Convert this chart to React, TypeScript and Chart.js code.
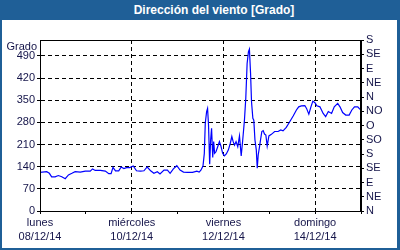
import React, { useEffect, useRef } from "react";
import { Chart, registerables } from "chart.js";

Chart.register(...registerables);

// ---- data (hours since 08/12/14 00:00, wind direction in degrees) ----
const HOURS = [
  0, 3.5, 4.9, 6.1, 7.9, 9.6, 11.4, 13.2, 14.9, 16.7, 18.4, 21.1, 23.7, 26.3, 27.5, 28.9,
  31.6, 34.2, 36, 37.2, 38.2, 39.5, 41.2, 42.5, 43.9, 45.3, 47, 48.8, 50.5, 52.6, 54.4,
  56.1, 57.9, 59.6, 61.4, 62.8, 64.9, 66.7, 68.1, 69.8, 71.6, 73.3, 75.1, 77.2, 79.8,
  82.1, 83.3, 84.2, 85.3, 86, 86.5, 87.2, 87.7, 88.2, 88.8, 89.3, 89.8, 90.4, 90.9, 91.4,
  92.1, 93, 93.9, 94.7, 95.6, 96.5, 97.5, 98.6, 99.6, 100.4, 101.1, 101.8, 102.6, 103.5,
  104.4, 105.3, 106.1, 107, 107.7, 108.4, 109.1, 109.6, 110.2, 110.7, 111.4, 111.9, 112.5,
  113.2, 113.7, 114.2, 114.9, 115.4, 116.1, 116.8, 117.5, 118.2, 118.9, 119.8, 121.1,
  122.8, 124.6, 126, 127.2, 128.9, 130.7, 132.5, 134.2, 135.4, 136.8, 138.6, 139.5, 140.7,
  141.8, 142.8, 143.9, 144.9, 146.5, 148.2, 149.5, 150.9, 152.6, 154, 155.8, 157, 158.4,
  160, 161.8, 163.2, 164.6, 166.3, 167.5,
];
const DIRECTION = [
  122, 124, 119, 108, 108, 112, 108, 102, 114, 119, 124, 123, 126, 126, 133, 128,
  128, 126, 118, 118, 138, 127, 127, 139, 134, 137, 137, 142, 127, 126, 127,
  139, 127, 119, 124, 117, 129, 129, 119, 133, 143, 129, 123, 122, 122,
  126, 123, 129, 142, 182, 277, 314, 324, 272, 148, 224, 261, 169, 219, 182,
  187, 203, 219, 205, 182, 174, 180, 193, 214, 235, 219, 208, 219, 203,
  237, 174, 224, 287, 356, 466, 503, 511, 435, 345, 293, 287, 224,
  193, 135, 177, 203, 224, 251, 254, 243, 240, 205, 237, 242,
  251, 251, 256, 253, 264, 282, 300, 319, 329, 332, 333, 324, 306,
  329, 347, 342, 332, 329, 308, 298, 314, 308, 329, 340, 329, 311,
  303, 303, 319, 329, 329, 321,
];

const DAY_NAMES = ["lunes", "martes", "miércoles", "jueves", "viernes", "sábado", "domingo", "lunes"];
const DAY_DATES = ["08/12/14", "09/12/14", "10/12/14", "11/12/14", "12/12/14", "13/12/14", "14/12/14", "15/12/14"];
const LEFT_TICKS = [0, 70, 140, 210, 280, 350, 420, 490];
const COMPASS_VALUES = [0, 45, 90, 135, 180, 225, 270, 315, 360, 405, 450, 495, 540];
const COMPASS_LABELS = ["N", "NE", "E", "SE", "S", "SO", "O", "NO", "N", "NE", "E", "SE", "S"];
const TITLE = "Dirección del viento [Grado]";
const UNIT = "Grado";

const FONT_FAMILY = "'Liberation Sans', Arial, sans-serif";
const TEXT_COLOR = "#15154a";
const FRAME_BLUE = "#1f5f97";
const DASH = [4, 3];

export default function App() {
  const canvasRef = useRef<HTMLCanvasElement | null>(null);

  useEffect(() => {
    const canvas = canvasRef.current;
    if (!canvas) return;

    const framePlugin = {
      id: "frameBox",
      afterDraw(chart: any) {
        const { ctx, chartArea } = chart;
        ctx.save();
        ctx.setLineDash([]);
        ctx.strokeStyle = "#000";
        ctx.lineWidth = 1;
        ctx.strokeRect(
          Math.round(chartArea.left) + 0.5,
          Math.round(chartArea.top) + 0.5,
          Math.round(chartArea.right - chartArea.left) - 1,
          Math.round(chartArea.bottom - chartArea.top)
        );
        ctx.fillStyle = TEXT_COLOR;
        ctx.font = `11px ${FONT_FAMILY}`;
        ctx.textAlign = "right";
        ctx.textBaseline = "middle";
        ctx.fillText(UNIT, chartArea.left - 3, chartArea.top + 7);
        ctx.restore();
      },
    };

    const chart = new Chart(canvas, {
      type: "line",
      data: {
        datasets: [
          {
            data: HOURS.map((h, i) => ({ x: h, y: DIRECTION[i] })),
            borderColor: "#0000ff",
            borderWidth: 1.2,
            pointRadius: 0,
            tension: 0,
            fill: false,
          },
        ],
      },
      options: {
        animation: false,
        responsive: false,
        maintainAspectRatio: false,
        layout: { padding: { top: 40, left: 0, right: 0, bottom: 0 } },
        plugins: {
          legend: { display: false },
          tooltip: { enabled: false },
          title: { display: false },
        },
        scales: {
          x: {
            type: "linear",
            min: 0,
            max: 168,
            afterBuildTicks: (scale: any) => {
              scale.ticks = DAY_NAMES.map((_, i) => ({ value: i * 24 }));
            },
            afterFit: (scale: any) => {
              scale.height = 39;
            },
            ticks: {
              autoSkip: false,
              maxRotation: 0,
              minRotation: 0,
              padding: 2,
              color: TEXT_COLOR,
              font: { family: FONT_FAMILY, size: 11, lineHeight: 1.28 },
              callback: (_v: any, index: number) =>
                index % 2 === 0 ? [DAY_NAMES[index], DAY_DATES[index]] : "",
            },
            grid: {
              color: (ctx: any) =>
                ctx.tick && ctx.tick.value % 48 === 0 && ctx.tick.value > 0 && ctx.tick.value < 168
                  ? "#000"
                  : "transparent",
              lineWidth: 1,
              borderDash: DASH,
              tickColor: "#000",
              tickLength: 3,
              tickBorderDash: [],
            } as any,
            border: { display: true, color: "#000", dash: DASH } as any,
          },
          y: {
            position: "left",
            min: 0,
            max: 540,
            afterBuildTicks: (scale: any) => {
              scale.ticks = LEFT_TICKS.map((v) => ({ value: v }));
            },
            afterFit: (scale: any) => {
              scale.width = 40;
            },
            ticks: {
              autoSkip: false,
              padding: 2,
              color: TEXT_COLOR,
              font: { family: FONT_FAMILY, size: 11 },
            },
            grid: {
              color: (ctx: any) => (ctx.tick && ctx.tick.value > 0 ? "#000" : "transparent"),
              lineWidth: 1,
              borderDash: DASH,
              tickColor: "#000",
              tickLength: 3,
              tickBorderDash: [],
            } as any,
            border: { display: true, color: "#000", dash: DASH } as any,
          },
          y2: {
            position: "right",
            min: 0,
            max: 540,
            afterBuildTicks: (scale: any) => {
              scale.ticks = COMPASS_VALUES.map((v) => ({ value: v }));
            },
            afterFit: (scale: any) => {
              scale.width = 39;
            },
            ticks: {
              autoSkip: false,
              padding: 2,
              color: TEXT_COLOR,
              font: { family: FONT_FAMILY, size: 11 },
              callback: (_v: any, index: number) => COMPASS_LABELS[index],
            },
            grid: {
              drawOnChartArea: false,
              tickColor: "#000",
              tickLength: 3,
              tickBorderDash: [],
            } as any,
            border: { display: true, color: "#000" },
          },
        },
      } as any,
      plugins: [framePlugin],
    });

    return () => chart.destroy();
  }, []);

  return (
    <div
      style={{
        position: "absolute",
        left: 0,
        top: 0,
        width: 400,
        height: 250,
        background: FRAME_BLUE,
        overflow: "hidden",
      }}
    >
      <div
        style={{
          position: "absolute",
          left: 2,
          top: 20,
          width: 395,
          height: 228,
          background: "#ffffff",
        }}
      />
      <div
        style={{
          position: "absolute",
          left: 0,
          top: 0,
          width: 428,
          height: 20,
          lineHeight: "20px",
          textAlign: "center",
          color: "#ffffff",
          fontFamily: FONT_FAMILY,
          fontWeight: "bold",
          fontSize: 12,
        }}
      >
        {TITLE}
      </div>
      <canvas
        ref={canvasRef}
        width={400}
        height={250}
        style={{ position: "absolute", left: 0, top: 0, width: 400, height: 250 }}
      />
    </div>
  );
}
